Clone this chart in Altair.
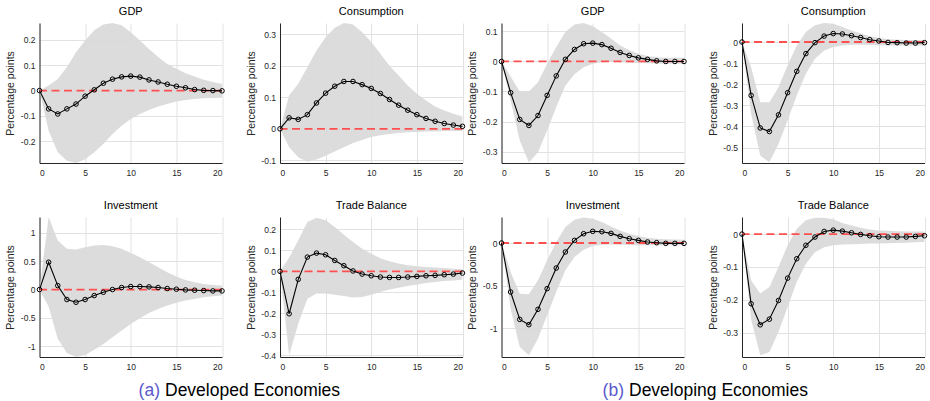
import altair as alt
import pandas as pd

# ---------------- data ----------------
periods = list(range(21))
x_ticks = [0, 5, 10, 15, 20]
zero_level = [0]

# Developed economies
dev_gdp = [0, -0.072, -0.092, -0.072, -0.053, -0.022, 0.003, 0.029, 0.045, 0.054, 0.057,
           0.053, 0.042, 0.034, 0.025, 0.017, 0.011, 0.004, 0.001, 0.0, -0.001]
dev_gdp_hi = [0, 0.02, 0.046, 0.092, 0.151, 0.197, 0.237, 0.26, 0.266, 0.257, 0.23,
              0.197, 0.164, 0.132, 0.105, 0.086, 0.068, 0.055, 0.043, 0.034, 0.026]
dev_gdp_lo = [0, -0.158, -0.243, -0.276, -0.285, -0.27, -0.243, -0.21, -0.171, -0.138, -0.112,
              -0.092, -0.076, -0.063, -0.053, -0.043, -0.037, -0.033, -0.03, -0.029, -0.028]
dev_gdp_dom = [-0.285, 0.266]
dev_gdp_ticks = [-0.2, -0.1, 0, 0.1, 0.2]

dev_con = [0, 0.035, 0.030, 0.045, 0.082, 0.113, 0.135, 0.150, 0.150, 0.140, 0.128,
           0.112, 0.093, 0.075, 0.059, 0.045, 0.033, 0.024, 0.017, 0.012, 0.008]
dev_con_hi = [0, 0.106, 0.143, 0.195, 0.248, 0.29, 0.32, 0.335, 0.33, 0.306, 0.275,
              0.238, 0.2, 0.169, 0.137, 0.111, 0.09, 0.071, 0.058, 0.048, 0.039]
dev_con_lo = [0, -0.058, -0.09, -0.104, -0.097, -0.085, -0.072, -0.058, -0.045, -0.035, -0.026,
              -0.02, -0.016, -0.013, -0.011, -0.01, -0.008, -0.008, -0.007, -0.007, -0.007]
dev_con_dom = [-0.108, 0.335]
dev_con_ticks = [-0.1, 0, 0.1, 0.2, 0.3]

dev_inv = [0, 0.482, 0.07, -0.176, -0.224, -0.176, -0.106, -0.047, 0.0, 0.035, 0.053,
           0.053, 0.047, 0.035, 0.018, 0.006, -0.006, -0.012, -0.018, -0.024, -0.024]
dev_inv_hi = [0, 1.28, 0.865, 0.718, 0.706, 0.747, 0.776, 0.788, 0.765, 0.718, 0.647,
              0.57, 0.482, 0.394, 0.306, 0.229, 0.17, 0.129, 0.1, 0.082, 0.07]
dev_inv_lo = [0, -0.3, -0.87, -1.118, -1.19, -1.153, -1.06, -0.96, -0.84, -0.724, -0.606,
              -0.506, -0.412, -0.341, -0.282, -0.235, -0.194, -0.165, -0.135, -0.118, -0.106]
dev_inv_dom = [-1.19, 1.28]
dev_inv_ticks = [-1, -0.5, 0, 0.5, 1]

dev_tb = [0, -0.202, -0.038, 0.068, 0.087, 0.079, 0.052, 0.027, 0.002, -0.013, -0.021,
          -0.027, -0.029, -0.029, -0.027, -0.024, -0.021, -0.019, -0.016, -0.013, -0.008]
dev_tb_hi = [0, 0.065, 0.148, 0.235, 0.256, 0.243, 0.211, 0.175, 0.14, 0.108, 0.084,
             0.063, 0.048, 0.037, 0.029, 0.024, 0.021, 0.018, 0.016, 0.013, 0.01]
dev_tb_lo = [0, -0.4, -0.25, -0.13, -0.106, -0.106, -0.111, -0.117, -0.125, -0.122, -0.111,
             -0.098, -0.087, -0.078, -0.07, -0.062, -0.056, -0.051, -0.046, -0.043, -0.04]
dev_tb_dom = [-0.408, 0.259]
dev_tb_ticks = [-0.4, -0.3, -0.2, -0.1, 0, 0.1, 0.2]

# Developing economies
dvg_gdp = [0, -0.104, -0.193, -0.213, -0.18, -0.113, -0.048, 0.007, 0.04, 0.059, 0.061,
           0.056, 0.044, 0.03, 0.02, 0.012, 0.007, 0.002, 0.0, 0.0, 0.0]
dvg_gdp_hi = [0, -0.05, -0.1, -0.1, -0.069, -0.008, 0.048, 0.098, 0.123, 0.128, 0.117,
              0.098, 0.076, 0.053, 0.037, 0.026, 0.018, 0.014, 0.012, 0.012, 0.012]
dvg_gdp_lo = [0, -0.13, -0.263, -0.336, -0.302, -0.23, -0.152, -0.08, -0.043, -0.019, -0.008,
              -0.003, -0.002, -0.003, -0.004, -0.005, -0.006, -0.007, -0.008, -0.008, -0.008]
dvg_gdp_dom = [-0.338, 0.128]
dvg_gdp_ticks = [-0.3, -0.2, -0.1, 0, 0.1]

dvg_con = [0, -0.253, -0.407, -0.424, -0.345, -0.24, -0.139, -0.055, -0.003, 0.028, 0.04,
           0.038, 0.03, 0.021, 0.011, 0.005, -0.002, -0.003, -0.005, -0.005, -0.003]
dvg_con_hi = [0, -0.12, -0.285, -0.285, -0.214, -0.11, -0.016, 0.047, 0.079, 0.09, 0.087,
              0.071, 0.055, 0.04, 0.027, 0.019, 0.013, 0.011, 0.01, 0.009, 0.009]
dvg_con_lo = [0, -0.34, -0.538, -0.57, -0.483, -0.372, -0.253, -0.15, -0.079, -0.04, -0.024,
              -0.016, -0.013, -0.013, -0.014, -0.015, -0.016, -0.016, -0.016, -0.016, -0.016]
dvg_con_dom = [-0.573, 0.09]
dvg_con_ticks = [-0.5, -0.4, -0.3, -0.2, -0.1, 0]

dvg_inv = [0, -0.574, -0.895, -0.957, -0.777, -0.535, -0.293, -0.105, 0.031, 0.109, 0.137,
           0.133, 0.113, 0.078, 0.051, 0.031, 0.012, 0.004, -0.004, -0.004, -0.004]
dvg_inv_hi = [0, -0.34, -0.594, -0.6, -0.437, -0.203, 0.012, 0.188, 0.273, 0.3, 0.285,
              0.246, 0.195, 0.148, 0.109, 0.082, 0.062, 0.05, 0.043, 0.04, 0.039]
dvg_inv_lo = [0, -0.77, -1.22, -1.316, -1.12, -0.848, -0.574, -0.32, -0.164, -0.078, -0.035,
              -0.02, -0.016, -0.02, -0.023, -0.025, -0.027, -0.027, -0.027, -0.027, -0.027]
dvg_inv_dom = [-1.336, 0.305]
dvg_inv_ticks = [-1, -0.5, 0]

dvg_tb = [0, -0.212, -0.276, -0.259, -0.202, -0.134, -0.075, -0.034, -0.009, 0.008, 0.012,
          0.009, 0.004, -0.001, -0.005, -0.008, -0.009, -0.009, -0.009, -0.007, -0.005]
dvg_tb_hi = [0, -0.141, -0.181, -0.161, -0.1, -0.034, 0.016, 0.042, 0.05, 0.05, 0.045,
             0.034, 0.026, 0.019, 0.014, 0.011, 0.01, 0.009, 0.008, 0.008, 0.008]
dvg_tb_lo = [0, -0.26, -0.369, -0.359, -0.298, -0.222, -0.146, -0.09, -0.055, -0.04, -0.034,
             -0.032, -0.031, -0.03, -0.029, -0.029, -0.028, -0.027, -0.026, -0.025, -0.024]
dvg_tb_dom = [-0.374, 0.052]
dvg_tb_ticks = [-0.3, -0.2, -0.1, 0]

cap_a = ["(a)", "Developed Economies"]
cap_b = ["(b)", "Developing Economies"]

# ---------------- style ----------------
FONT = "Liberation Sans"
W, H = 182.5, 140
BAND = "#d9d9d9"
RED = "#ff4f4f"
BLUE = "#5a5acd"
LABEL_EXPR = "replace(format(datum.value, '~g'), '\u2212', '-')"


def panel(title, line, lo, hi, domain, yticks, caption=None, cap_x=(0, 0)):
    df = pd.DataFrame({"t": periods, "irf": line, "lo": lo, "hi": hi})
    xs = alt.Scale(domain=[0, 20], nice=False, zero=False)
    ys = alt.Scale(domain=domain, nice=False, zero=False)
    xa = alt.Axis(values=x_ticks, title=None, labelPadding=5)
    ya = alt.Axis(values=yticks, title="Percentage points", labelExpr=LABEL_EXPR,
                  labelPadding=4.5, titleX=-24)
    X = alt.X("t:Q", scale=xs, axis=xa)
    base = alt.Chart(df)
    band = base.mark_area(color=BAND, clip=True, opacity=0.92).encode(
        x=X, y=alt.Y("lo:Q", scale=ys, axis=ya), y2="hi:Q")
    zero = alt.Chart(pd.DataFrame({"z": zero_level})).mark_rule(
        color=RED, strokeDash=[8, 4.5], strokeWidth=1.8).encode(
        y=alt.Y("z:Q", scale=ys, axis=ya))
    ln = base.mark_line(color="black", strokeWidth=1.1).encode(
        x=X, y=alt.Y("irf:Q", scale=ys, axis=ya))
    pts = base.mark_point(shape="circle", filled=False, color="black", size=21,
                          strokeWidth=1, opacity=1).encode(
        x=X, y=alt.Y("irf:Q", scale=ys, axis=ya))
    layers = [band, zero, ln, pts]
    if caption is not None:
        tag = alt.Chart(pd.DataFrame({"s": [caption[0]]})).mark_text(
            align="right", baseline="alphabetic", font=FONT, fontSize=17.5, color=BLUE
        ).encode(x=alt.value(cap_x[0]), y=alt.value(179), text="s:N")
        txt = alt.Chart(pd.DataFrame({"s": [caption[1]]})).mark_text(
            align="left", baseline="alphabetic", font=FONT, fontSize=17.5, color="black"
        ).encode(x=alt.value(cap_x[1]), y=alt.value(179), text="s:N")
        layers += [tag, txt]
    return alt.layer(*layers).properties(
        width=W, height=H,
        title=alt.TitleParams(title, font=FONT, fontSize=11, fontWeight="normal",
                              color="black", offset=6, frame="group", anchor="middle"))


p1 = panel("GDP", dev_gdp, dev_gdp_lo, dev_gdp_hi, dev_gdp_dom, dev_gdp_ticks)
p2 = panel("Consumption", dev_con, dev_con_lo, dev_con_hi, dev_con_dom, dev_con_ticks)
p5 = panel("Investment", dev_inv, dev_inv_lo, dev_inv_hi, dev_inv_dom, dev_inv_ticks,
           caption=cap_a, cap_x=(120.5, 125.5))
p6 = panel("Trade Balance", dev_tb, dev_tb_lo, dev_tb_hi, dev_tb_dom, dev_tb_ticks)

p3 = panel("GDP", dvg_gdp, dvg_gdp_lo, dvg_gdp_hi, dvg_gdp_dom, dvg_gdp_ticks)
p4 = panel("Consumption", dvg_con, dvg_con_lo, dvg_con_hi, dvg_con_dom, dvg_con_ticks)
p7 = panel("Investment", dvg_inv, dvg_inv_lo, dvg_inv_hi, dvg_inv_dom, dvg_inv_ticks,
           caption=cap_b, cap_x=(122.5, 127.5))
p8 = panel("Trade Balance", dvg_tb, dvg_tb_lo, dvg_tb_hi, dvg_tb_dom, dvg_tb_ticks)

gridA = alt.concat(p1, p2, p5, p6, columns=2, spacing={"column": 57.5, "row": 54}, bounds="flush")
gridB = alt.concat(p3, p4, p7, p8, columns=2, spacing={"column": 57.5, "row": 54}, bounds="flush")

chart = alt.hconcat(gridA, gridB, spacing=-1).properties(
    padding={"left": 4.5, "top": 6, "right": 0, "bottom": 0}
).configure_view(stroke=None).configure_axis(
    labelFont=FONT, labelFontSize=8.5, labelColor="#262626",
    titleFont=FONT, titleFontSize=10.5, titleFontWeight="normal", titleColor="#262626",
    domainColor="#262626", domainWidth=1,
    gridColor="#e2e2e2", gridWidth=1, ticks=False, tickSize=0
)

chart.save("out.html", embed_options={"renderer": "svg", "actions": False})
